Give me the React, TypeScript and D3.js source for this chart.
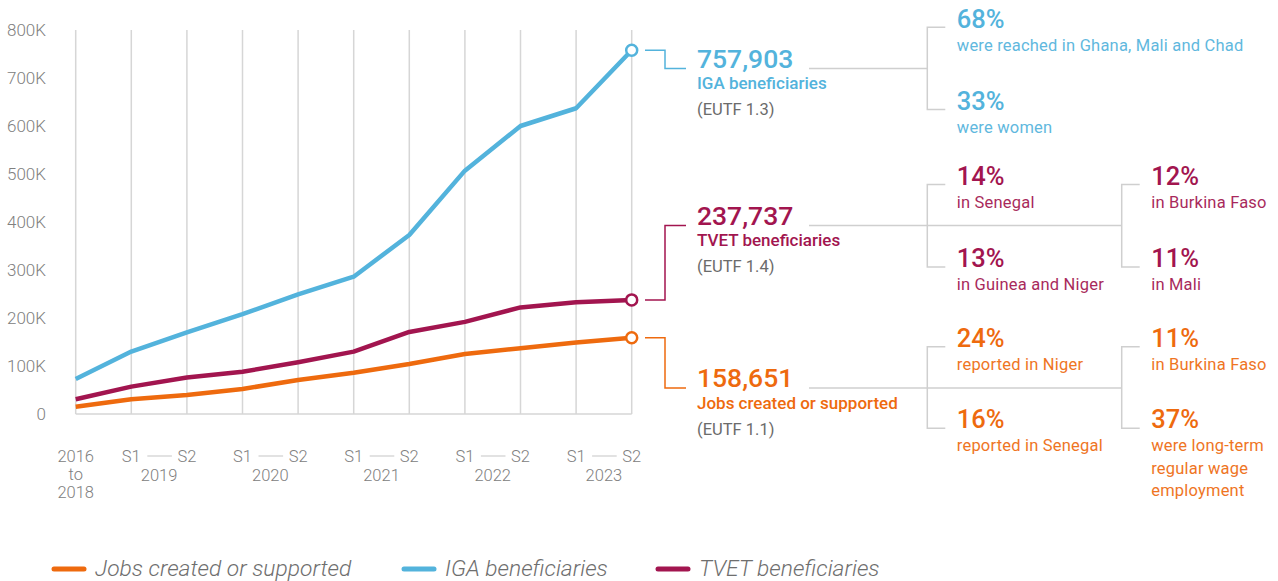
import React from "react";
import * as d3 from "d3";

const categories = ["2016-2018", "2019 S1", "2019 S2", "2020 S1", "2020 S2", "2021 S1", "2021 S2", "2022 S1", "2022 S2", "2023 S1", "2023 S2"];
const igaValues = [73000, 130000, 170000, 208000, 249000, 286000, 373000, 507000, 600000, 637000, 757903];
const tvetValues = [30600, 57000, 76000, 88000, 108000, 130000, 171000, 192000, 222000, 233000, 237737];
const jobsValues = [15000, 30600, 39600, 52000, 71000, 86000, 104000, 125000, 137000, 149000, 158651];
const yTicks = [0, 100000, 200000, 300000, 400000, 500000, 600000, 700000, 800000];
const years = ["2019", "2020", "2021", "2022", "2023"];

const BLUE = "#53b3dc";
const CRIMSON = "#a2154f";
const ORANGE = "#ee6a0e";
const GRID = "#d6d6d6";
const BRACKET = "#cfcfcf";
const AXIS_TXT = "#808080";
const FONT = "Roboto, 'Noto Sans', sans-serif";

const x = d3.scalePoint<string>().domain(categories).range([75.7, 631.7]);
const y = d3.scaleLinear().domain([0, 800000]).range([414, 30]);
const fmtTick = (v: number) => (v === 0 ? "0" : `${v / 1000}K`);
const fmtNum = d3.format(",");

type Series = { name: string; values: number[]; color: string; eutf: string };
const series: Series[] = [
  { name: "Jobs created or supported", values: jobsValues, color: ORANGE, eutf: "(EUTF 1.1)" },
  { name: "IGA beneficiaries", values: igaValues, color: BLUE, eutf: "(EUTF 1.3)" },
  { name: "TVET beneficiaries", values: tvetValues, color: CRIMSON, eutf: "(EUTF 1.4)" },
];

const line = d3
  .line<number>()
  .x((_, i) => x(categories[i]) as number)
  .y((d) => y(d));

type Stat = { pct: string; lines: string[] };
const igaStats: Stat[][] = [[
  { pct: "68%", lines: ["were reached in Ghana, Mali and Chad"] },
  { pct: "33%", lines: ["were women"] },
]];
const tvetStats: Stat[][] = [
  [{ pct: "14%", lines: ["in Senegal"] }, { pct: "13%", lines: ["in Guinea and Niger"] }],
  [{ pct: "12%", lines: ["in Burkina Faso"] }, { pct: "11%", lines: ["in Mali"] }],
];
const jobsStats: Stat[][] = [
  [{ pct: "24%", lines: ["reported in Niger"] }, { pct: "16%", lines: ["reported in Senegal"] }],
  [{ pct: "11%", lines: ["in Burkina Faso"] }, { pct: "37%", lines: ["were long-term", "regular wage", "employment"] }],
];

function Annotation({ s, labelY, stats, topY, botY }: { s: Series; labelY: number; stats: Stat[][]; topY: number; botY: number }) {
  const last = s.values[s.values.length - 1];
  const cx = x(categories[categories.length - 1]) as number;
  const cy = y(last);
  const midY = labelY + 1;
  const colX = [927.3, 1121.7];
  const lastCol = colX[stats.length - 1];
  return (
    <g>
      <path d={`M645,${cy}H665V${midY}H686`} fill="none" stroke={s.color} strokeWidth={1.5} />
      <text x={697} y={labelY} fontSize={26.5} fontWeight={500} fill={s.color}>{fmtNum(last)}</text>
      <text x={697} y={labelY + 21.5} fontSize={17} fontWeight={500} fill={s.color}>{s.name}</text>
      <text x={697} y={labelY + 47.5} fontSize={16.5} fill="#6b6b6b">{s.eutf}</text>
      <path d={`M809,${midY}H${lastCol}`} fill="none" stroke={BRACKET} strokeWidth={1.5} />
      {stats.map((col, ci) => (
        <g key={ci}>
          <path d={`M${colX[ci] + 18},${topY}H${colX[ci]}V${botY}H${colX[ci] + 18}`} fill="none" stroke={BRACKET} strokeWidth={1.5} />
          {col.map((st, si) => {
            const by = si === 0 ? topY + 0.5 : botY;
            return (
              <g key={si}>
                <text x={colX[ci] + 29.5} y={by} fontSize={25.5} fontWeight={500} fill={s.color}>{st.pct}</text>
                {st.lines.map((l, li) => (
                  <text key={li} x={colX[ci] + 29.5} y={by + 23 + li * 22.5} fontSize={16.5} letterSpacing={0.2} fill={s.color} opacity={0.92}>{l}</text>
                ))}
              </g>
            );
          })}
        </g>
      ))}
      <circle cx={cx} cy={cy} r={5.5} fill="#fff" stroke={s.color} strokeWidth={2.5} />
    </g>
  );
}

export default function App() {
  const xs = categories.map((c) => x(c) as number);
  return (
    <svg width={1278} height={581} style={{ position: "absolute", left: 0, top: 0, fontFamily: FONT }}>
      <rect width={1278} height={581} fill="#fff" />
      {xs.map((xx, i) => (
        <line key={i} x1={xx} x2={xx} y1={30} y2={y(0)} stroke={GRID} strokeWidth={1.5} />
      ))}
      <line x1={xs[0]} x2={xs[xs.length - 1]} y1={y(0)} y2={y(0)} stroke={GRID} strokeWidth={1.5} />
      {yTicks.map((t) => (
        <text key={t} x={46} y={y(t) + 6} textAnchor="end" fontSize={17} fontWeight={300} fill={AXIS_TXT}>{fmtTick(t)}</text>
      ))}
      <g fontSize={16.5} fontWeight={300} fill={AXIS_TXT} textAnchor="middle">
        <text x={xs[0]} y={462}>2016</text>
        <text x={xs[0]} y={480}>to</text>
        <text x={xs[0]} y={498}>2018</text>
        {years.map((yr, i) => {
          const a = xs[1 + i * 2];
          const b = xs[2 + i * 2];
          return (
            <g key={yr}>
              <text x={a} y={462}>S1</text>
              <text x={b} y={462}>S2</text>
              <line x1={a + 16} x2={b - 15} y1={456} y2={456} stroke={BRACKET} strokeWidth={1.2} />
              <text x={(a + b) / 2} y={481}>{yr}</text>
            </g>
          );
        })}
      </g>
      {series.map((s) => (
        <path key={s.name} d={line(s.values) as string} fill="none" stroke={s.color} strokeWidth={4.5} strokeLinejoin="round" />
      ))}
      <Annotation s={series[1]} labelY={67.5} stats={igaStats} topY={27.3} botY={109.5} />
      <Annotation s={series[2]} labelY={224.5} stats={tvetStats} topY={184.5} botY={267} />
      <Annotation s={series[0]} labelY={387} stats={jobsStats} topY={346.7} botY={428.3} />
      {series.map((s, i) => {
        const lx = [52, 402, 656][i];
        return (
          <g key={s.name}>
            <line x1={lx + 2} x2={lx + 32} y1={569} y2={569} stroke={s.color} strokeWidth={5} strokeLinecap="round" />
            <text x={lx + 43} y={575.5} fontSize={22.8} fontStyle="italic" fontWeight={300} fill="#6e6e6e">{s.name}</text>
          </g>
        );
      })}
    </svg>
  );
}
